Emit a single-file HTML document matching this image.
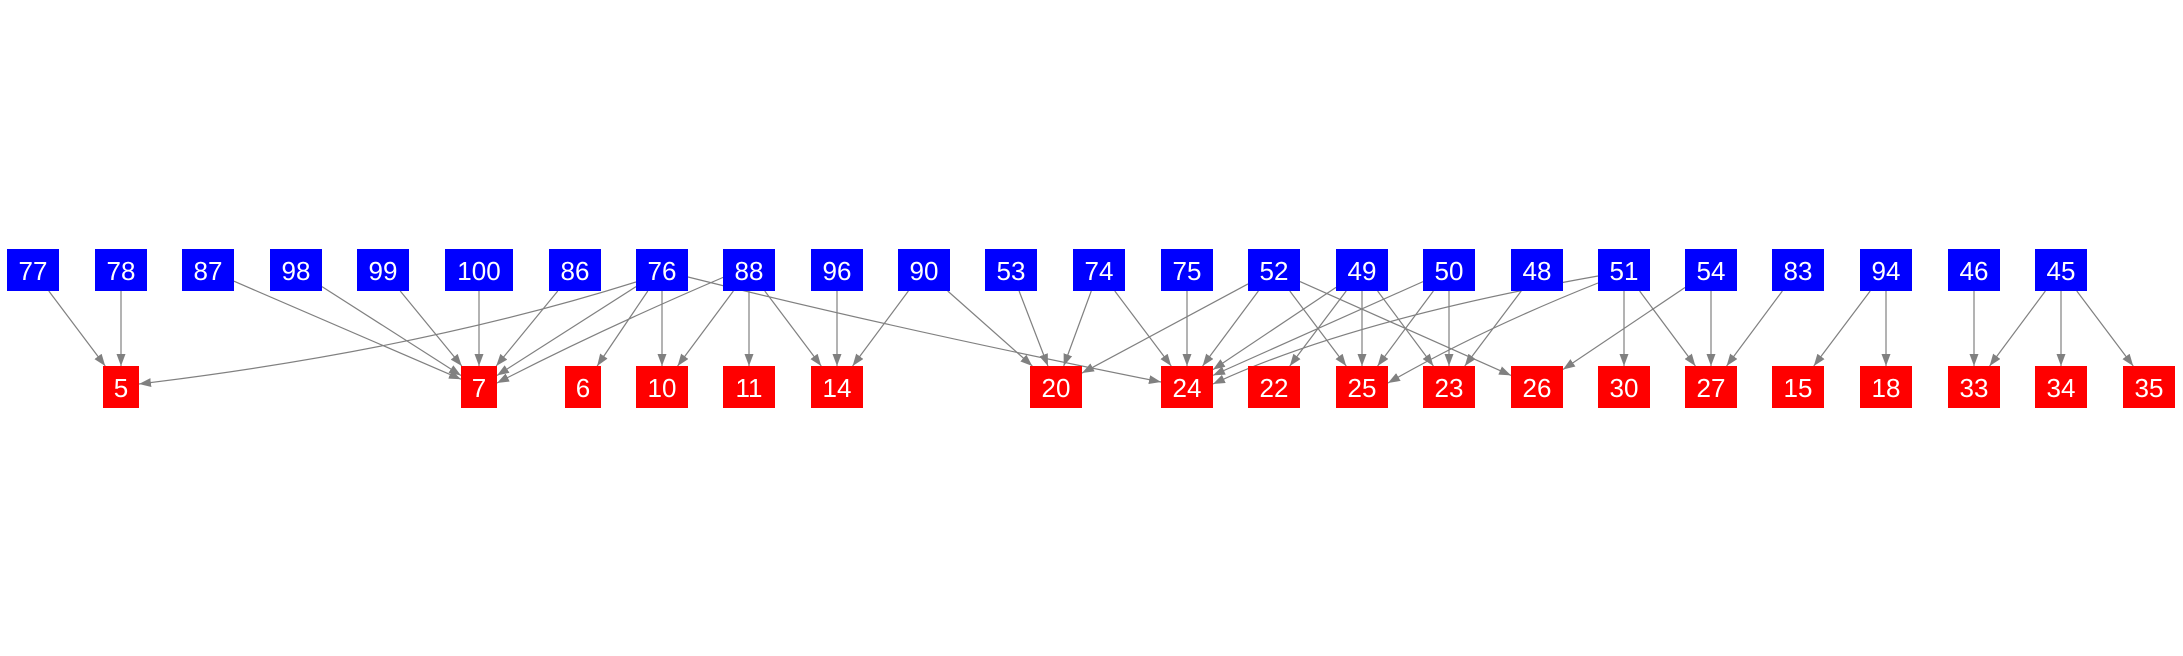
<!DOCTYPE html>
<html><head><meta charset="utf-8"><style>
html,body{margin:0;padding:0;background:#fff;}
svg{display:block;}
text{font-family:"Liberation Sans",Arial,sans-serif;font-size:26px;fill:#fff;text-anchor:middle;dominant-baseline:central;}
</style></head><body>
<svg id="g" width="2183" height="656" viewBox="0 0 2183 656" xmlns="http://www.w3.org/2000/svg">
<defs><marker id="a" markerUnits="userSpaceOnUse" markerWidth="12" markerHeight="9" refX="12" refY="4.5" orient="auto"><path d="M0,0 L12,4.5 L0,9 z" fill="#808080"/></marker></defs>
<g id="e"></g><g id="n"></g>
</svg>
<script>
(function(){
var TOPN={77:33,78:121,87:208,98:296,99:383,100:479,86:575,76:662,88:749,96:837,90:924,53:1011,74:1099,75:1187,52:1274,49:1362,50:1449,48:1537,51:1624,54:1711,83:1798,94:1886,46:1974,45:2061};
var BOTN={5:121,7:479,6:583,10:662,11:749,14:837,20:1056,24:1187,22:1274,25:1362,23:1449,26:1537,30:1624,27:1711,15:1798,18:1886,33:1974,34:2061,35:2149};
var TY=270,BY=387,HH=21;
var curves={"76-5":[[636,282],[420,350],[139,384]],"76-24":[[688,277],[900,330],[1161,382]],"88-7":[[724,277],[600,330],[497,383]],"51-24":[[1598,276],[1350,320],[1213,384]],"51-25":[[1598,283],[1480,330],[1388,383]]};
var edges=[[77,5],[78,5],[87,7],[98,7],[99,7],[100,7],[86,7],[76,5],[76,7],[76,6],[76,10],[76,24],[88,7],[88,10],[88,11],[88,14],[96,14],[90,14],[90,20],[53,20],[74,20],[74,24],[75,24],[52,20],[52,24],[52,25],[52,26],[49,24],[49,22],[49,25],[49,23],[50,24],[50,25],[50,23],[48,23],[51,24],[51,25],[51,30],[51,27],[54,26],[54,27],[83,27],[94,15],[94,18],[46,33],[45,33],[45,34],[45,35]];
var NS="http://www.w3.org/2000/svg";
function hwT(k){return k==100?34:26;}
function hwB(k){return String(k).length==1?18:26;}
function clip(cx,cy,dx,dy,w,h){var t=Math.min(Math.abs(dx)>0?w/Math.abs(dx):1e9,Math.abs(dy)>0?h/Math.abs(dy):1e9);return [cx+dx*t,cy+dy*t];}
var eg=document.getElementById('e');
edges.forEach(function(p){
 var key=p[0]+"-"+p[1];var el;
 if(curves[key]){var c=curves[key];
  el=document.createElementNS(NS,'path');
  el.setAttribute('d','M'+c[0][0]+','+c[0][1]+' Q'+c[1][0]+','+c[1][1]+' '+c[2][0]+','+c[2][1]);
  el.setAttribute('fill','none');
 } else {
 var sx=TOPN[p[0]],tx=BOTN[p[1]];var dx=tx-sx,dy=BY-TY;
 var s=clip(sx,TY,dx,dy,hwT(p[0]),HH);var t=clip(tx,BY,-dx,-dy,hwB(p[1]),HH);
 el=document.createElementNS(NS,'line');
 el.setAttribute('x1',s[0]);el.setAttribute('y1',s[1]);el.setAttribute('x2',t[0]);el.setAttribute('y2',t[1]);
 }
 el.setAttribute('stroke','#808080');el.setAttribute('stroke-width','1.2');el.setAttribute('marker-end','url(#a)');
 eg.appendChild(el);
});
var ng=document.getElementById('n');
function box(k,cx,cy,col,w){
 var r=document.createElementNS(NS,'rect');r.setAttribute('x',cx-w);r.setAttribute('y',cy-HH);r.setAttribute('width',2*w);r.setAttribute('height',2*HH);r.setAttribute('fill',col);ng.appendChild(r);
 var t=document.createElementNS(NS,'text');t.setAttribute('x',cx);t.setAttribute('y',cy+1);t.textContent=k;ng.appendChild(t);
}
Object.keys(TOPN).forEach(function(k){box(k,TOPN[k],TY,'#0000ff',hwT(+k));});
Object.keys(BOTN).forEach(function(k){box(k,BOTN[k],BY,'#ff0000',hwB(k));});
})();
</script>
</body></html>
